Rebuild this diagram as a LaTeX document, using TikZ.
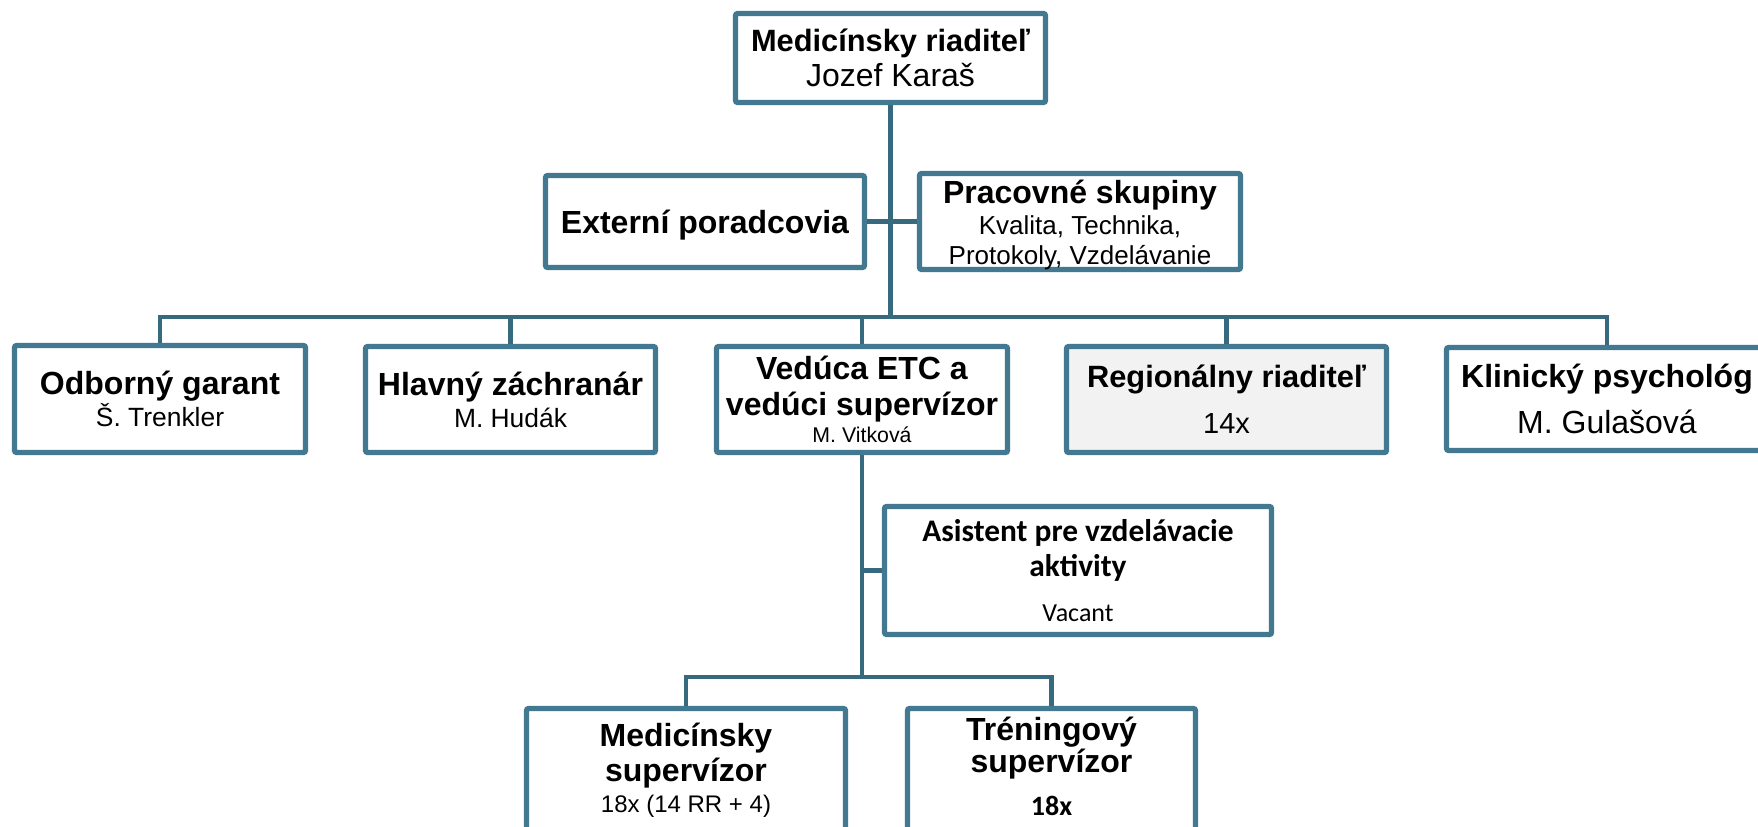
\documentclass[tikz,border=0pt]{standalone}
\usepackage{fontspec}
\setmainfont{Liberation Sans}
\newfontfamily\calibri{Carlito}
\usetikzlibrary{positioning}
\definecolor{boxblue}{RGB}{66,120,144}
\definecolor{linkblue}{RGB}{56,106,127}
\definecolor{rrgray}{RGB}{242,242,242}
\setlength{\lineskiplimit}{-100pt}
\newcommand{\fs}[1]{\fontsize{#1}{16}\selectfont}

\begin{document}
\begin{tikzpicture}[x=0.5pt, y=-0.5pt,
    main/.style = {draw=boxblue, line width=2.6pt, fill=white, rounded corners=1pt,
                   inner sep=0pt, align=center, font=\fs{16}},
    link/.style = {draw=linkblue, line width=2.3pt}]
    \useasboundingbox (0,0) rectangle (1758,826);

    \node[main, minimum width=155pt, minimum height=44.5pt] (dir) at (890.5,58)
        {{\fs{15.4}\bfseries Medicínsky riaditeľ}\\[1.5pt] Jozef Karaš};
    \node[main, minimum width=159.5pt, minimum height=46pt] (ext) at (705,221.5)
        {\rule{0pt}{15pt}\bfseries Externí poradcovia};
    \node[main, minimum width=160.5pt, minimum height=47.5pt] (prac) at (1080,221.5)
        {\rule{0pt}{15pt}\textbf{Pracovné skupiny}\\[-0.7pt] {\fs{13}Kvalita, Technika,}\\[-1pt] {\fs{13}Protokoly, Vzdelávanie}};

    \node[main, minimum width=145.5pt, minimum height=53.5pt] (garant) at (160,399)
        {\textbf{Odborný garant}\\ {\fs{13.2}Š. Trenkler}};
    \node[main, minimum width=145pt, minimum height=53pt] (zachr) at (510.5,399.5)
        {\textbf{Hlavný záchranár}\\ {\fs{13.2}M. Hudák}};
    \node[main, minimum width=145.5pt, minimum height=53pt] (veduca) at (862,399.5)
        {\textbf{Vedúca ETC a}\\[2pt] \textbf{vedúci supervízor}\\[-2.3pt] {\fs{10.65}M. Vitková}};
    \node[main, fill=rrgray, minimum width=160pt, minimum height=53pt] (region) at (1226.5,399.5)
        {{\fs{15.4}\bfseries Regionálny riaditeľ}\\[7pt] {\fs{14.5}14x}};
    \node[main, minimum width=160.5pt, minimum height=51.5pt] (psych) at (1607,399)
        {\textbf{Klinický psychológ}\\[7pt] M. Gulašová};

    \node[main, minimum width=193.5pt, minimum height=64pt, font=\calibri\fs{15.7}] (asist) at (1078,570.5)
        {\textbf{Asistent pre vzdelávacie}\\[1.7pt] \textbf{aktivity}\\[6.3pt] {\fs{13}Vacant}};
    \node[main, minimum width=159.5pt, minimum height=61.75pt] (medsup) at (686,770.25)
        {\textbf{Medicínsky}\\[1.5pt] \textbf{supervízor}\\[-0.2pt] {\fs{12}18x (14 RR + 4)}};
    \node[main, minimum width=144pt, minimum height=61.75pt] (trensup) at (1051.5,770.25)
        {\textbf{Tréningový}\\[0.2pt] \textbf{supervízor}\\[5.3pt] {\calibri\fs{14}\bfseries 18x}\rule[-4pt]{0pt}{4pt}};

    \coordinate (bus1) at (891,317);
    \coordinate (bus2) at (862,677);

    \draw[link] (dir.south) -- (dir.south |- bus1);
    \draw[link] (ext.east) -- (prac.west);
    \draw[link] (garant.north) |- (bus1) -| (psych.north);
    \foreach \n in {zachr,veduca,region}
        \draw[link] (\n.north) -- (\n.north |- bus1);
    \draw[link] (veduca.south) -- (bus2);
    \draw[link] (asist.west) -- (asist.west -| bus2);
    \draw[link] (medsup.north) |- (bus2) -| (trensup.north);
\end{tikzpicture}
\end{document}
